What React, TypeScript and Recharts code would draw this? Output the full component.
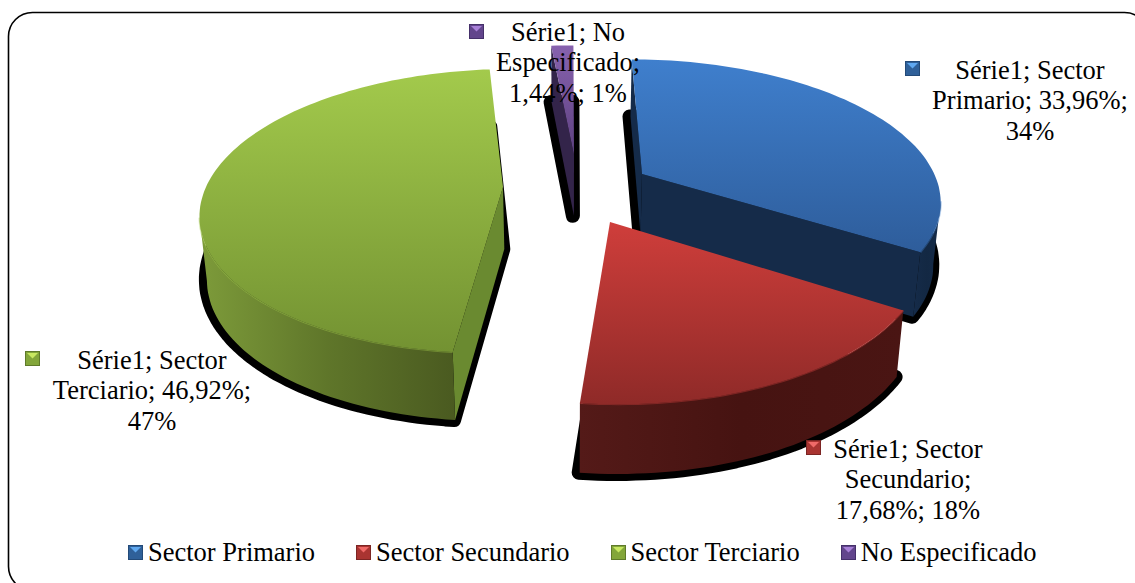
import React from "react";
import { PieChart, Pie, Legend } from "recharts";

const sectorNames = ["Sector Primario", "Sector Secundario", "Sector Terciario", "No Especificado"];
const sectorValues = [33.96, 17.68, 46.92, 1.44];
const labelLines = [
  ["Série1; Sector", "Primario; 33,96%;", "34%"],
  ["Série1; Sector", "Secundario;", "17,68%; 18%"],
  ["Série1; Sector", "Terciario; 46,92%;", "47%"],
  ["Série1; No", "Especificado;", "1,44%; 1%"],
];
const topFrom = ["#3f7fcd", "#cf3e3b", "#a3ca4c", "#8762ae"];
const topTo = ["#2e5d9b", "#8f2a28", "#739232", "#5d4080"];
const rimLeft = ["#152b49", "#541a18", "#7d9b3a", "#3a2a52"];
const rimMid = ["#132843", "#461311", "#5f762a", "#2a1c3c"];
const rimRight = ["#152b49", "#4a1513", "#4a5a20", "#3a2a52"];
const cutColor = ["#152b49", "#4e1715", "#6a8a30", "#33244a"];
const swatchLight = ["#5fa8f0", "#f06a68", "#c8e860", "#a880d8"];
const swatchMid = ["#2f6099", "#a93431", "#83a63a", "#62458c"];
const swatchDark = ["#234a78", "#7c2523", "#5f7a2a", "#45306a"];

// Layout of the drawing, separate from the values
const apexes = [[642, 174], [610, 222], [503, 187], [574, 155]];
const labelCenters = [[1030, 70], [908, 449], [152, 360], [568, 32]];
const swatchSpots = [[905, 61], [806, 440], [25, 351], [469, 24]];
const LINE_GAP = 30.7;
const FONT = "'Liberation Serif', 'Times New Roman', serif";
const FONT_SIZE = 26.5;
const CX = 570, CY = 187, K = 0.169, A = 138, DEPTH = 62, SHRINK = 0.98;

const data = sectorNames.map((name, i) => ({ name, value: sectorValues[i], fill: topFrom[i] }));

const project = (u: number, v: number, rx: number) => {
  const w = 1 - K * v;
  return { x: CX + (rx * u) / w, y: CY + (A * v) / w, w };
};
const lower = (p: any) => ({ x: CX + (p.x - CX) * SHRINK, y: p.y + DEPTH / Math.sqrt(p.w), w: p.w });
const toPath = (pts: any[]) => "M" + pts.map((p) => `${p.x.toFixed(1)},${p.y.toFixed(1)}`).join("L") + "Z";

const Slice = (props: any) => {
  const i = sectorNames.indexOf(props.name ?? props.payload?.name);
  const rx = props.outerRadius;
  const t0 = 90 - props.startAngle;
  const t1 = 90 - props.endAngle;
  const [ax, ay] = apexes[i];
  const Y = ay - CY;
  const v0 = Y / (A + K * Y);
  const u0 = ((ax - CX) * (1 - K * v0)) / rx;
  const arc: any[] = [];
  const steps = Math.max(4, Math.ceil((t1 - t0) / 1.5));
  for (let s = 0; s <= steps; s++) {
    const t = ((t0 + ((t1 - t0) * s) / steps) * Math.PI) / 180;
    arc.push(project(u0 + Math.sin(t), v0 - Math.cos(t), rx));
  }
  const apex = project(u0, v0, rx);
  const poly = [apex, ...arc];
  const quads: any[] = [];
  const quad = (p: any, q: any) => toPath([p, q, lower(q), lower(p)]);
  if (arc[0].x < apex.x) quads.push(<path key="c0" d={quad(apex, arc[0])} fill={cutColor[i]} />);
  const last = arc[arc.length - 1];
  if (apex.x < last.x) quads.push(<path key="c1" d={quad(last, apex)} fill={cutColor[i]} />);
  // visible stretch of the rim
  let run: any[] = [];
  const runs: any[][] = [];
  for (let s = 0; s < arc.length - 1; s++) {
    if (arc[s + 1].x < arc[s].x) {
      if (!run.length) run.push(arc[s]);
      run.push(arc[s + 1]);
    } else if (run.length) {
      runs.push(run);
      run = [];
    }
  }
  if (run.length) runs.push(run);
  return (
    <g>
      <path d={toPath(poly.map(lower))} transform="translate(-1,0)" fill="#000" stroke="#000" strokeWidth={14} strokeLinejoin="round" />
      {quads}
      {runs.map((r, n) => (
        <path key={n} d={toPath([...r, ...r.slice().reverse().map(lower)])} fill={`url(#rim${i})`} />
      ))}
      {runs.map((r, n) => (
        <polyline
          key={"e" + n}
          points={r.map((p) => `${p.x.toFixed(1)},${p.y.toFixed(1)}`).join(" ")}
          fill="none"
          stroke={topFrom[i]}
          strokeOpacity={0.4}
          strokeWidth={2}
        />
      ))}
      <path d={toPath(poly)} fill={`url(#top${i})`} />
    </g>
  );
};

const Swatch = ({ i, x, y }: any) => (
  <g transform={`translate(${x},${y})`}>
    <rect width={15} height={15} fill={swatchDark[i]} />
    <rect x={1} y={1} width={13} height={13} fill={swatchMid[i]} />
    <polygon points="2,2 13,2 7.5,7.5" fill={swatchLight[i]} />
  </g>
);

const DataLabel = (props: any) => {
  const i = props.index;
  const [lx, ly] = labelCenters[i];
  const [sx, sy] = swatchSpots[i];
  return (
    <g>
      <Swatch i={i} x={sx} y={sy} />
      <text textAnchor="middle" fontFamily={FONT} fontSize={FONT_SIZE} fill="#000">
        {labelLines[i].map((l, n) => (
          <tspan key={n} x={lx} y={ly + n * LINE_GAP + 8.5}>
            {l}
          </tspan>
        ))}
      </text>
    </g>
  );
};

const legendContent = (props: any) => (
  <div style={{ display: "flex", alignItems: "center", fontFamily: FONT, fontSize: FONT_SIZE, color: "#000", whiteSpace: "nowrap", lineHeight: "30px" }}>
    {sectorNames.map((name, i) => (
      <div key={name} style={{ display: "flex", alignItems: "center", marginRight: 41 }}>
        <svg width={15} height={15} style={{ marginRight: 5, display: "block" }}>
          <Swatch i={i} x={0} y={0} />
        </svg>
        <span>{(props.payload || []).find((e: any) => e.value === name)?.value ?? name}</span>
      </div>
    ))}
  </div>
);

export default function App() {
  return (
    <div style={{ position: "absolute", left: 0, top: 0, width: 1135, height: 583, overflow: "hidden", background: "#fff" }}>
      <PieChart width={1135} height={583} margin={{ top: 0, right: 0, bottom: 0, left: 0 }}>
        <defs>
          {sectorNames.map((_, i) => (
            <linearGradient key={"t" + i} id={`top${i}`} x1="0" y1="0" x2="0" y2="1">
              <stop offset="0%" stopColor={topFrom[i]} />
              <stop offset="100%" stopColor={topTo[i]} />
            </linearGradient>
          ))}
          {sectorNames.map((_, i) => (
            <linearGradient key={"r" + i} id={`rim${i}`} x1="0" y1="0" x2="1" y2="0">
              <stop offset="0%" stopColor={rimLeft[i]} />
              <stop offset="50%" stopColor={rimMid[i]} />
              <stop offset="100%" stopColor={rimRight[i]} />
            </linearGradient>
          ))}
        </defs>
        <rect x={8.5} y={12.5} width={1140} height={578} rx={24} ry={24} fill="#fff" stroke="#000" strokeWidth={1.6} />
        <Pie
          data={data}
          dataKey="value"
          nameKey="name"
          cx={CX}
          cy={CY}
          innerRadius={0}
          outerRadius={297}
          startAngle={90}
          endAngle={-270}
          paddingAngle={0}
          stroke="none"
          isAnimationActive={false}
          shape={Slice}
          label={DataLabel}
          labelLine={false}
        />
        <Legend content={legendContent} wrapperStyle={{ position: "absolute", left: 128, top: 537, width: 1000, height: 30, bottom: "auto", margin: 0 }} />
      </PieChart>
    </div>
  );
}
